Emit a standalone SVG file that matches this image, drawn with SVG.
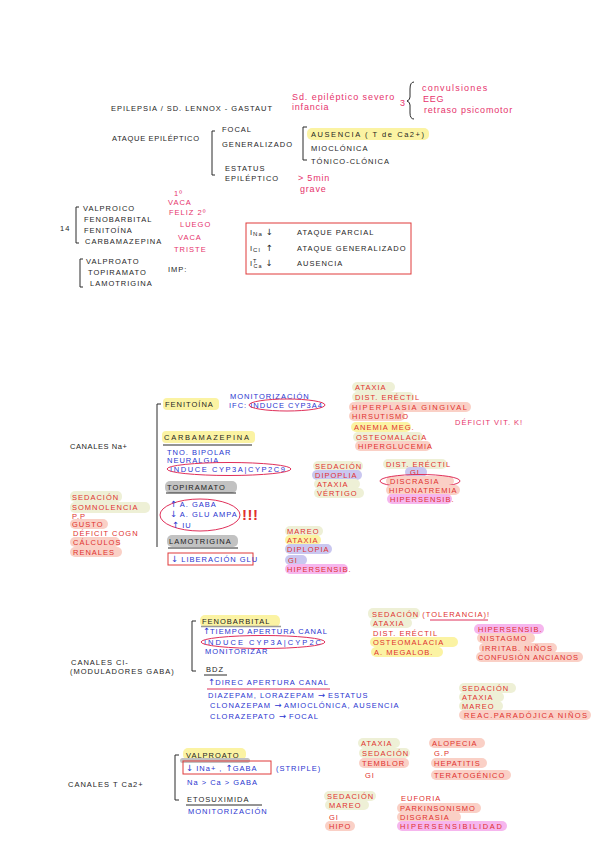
<svg xmlns="http://www.w3.org/2000/svg" width="600" height="848" viewBox="0 0 600 848">
<style>
text{font-family:"Liberation Sans",Arial,sans-serif;font-size:7.5px;letter-spacing:1px}
.ar{font-family:"DejaVu Sans",sans-serif;font-size:8.5px;letter-spacing:0}
.k{fill:#1e1e1e}
.b{fill:#2a35d0}
.r{fill:#e0302e}
.m{fill:#e6336c;font-size:9px;letter-spacing:0.8px}
.mc{fill:#e6336c}
.hy{fill:#fbf3a3}
.hg{fill:#eef0d6}
.hs{fill:#fad0c6}
.hl{fill:#cac7f0}
.hp{fill:#f6b6ee}
.hgr{fill:#c2c2c2}
.br{fill:none;stroke:#2a2a2a;stroke-width:1}
.ul{stroke:#2a2a2a;stroke-width:1}
.el{fill:none;stroke:#e0305a;stroke-width:1}
.box{fill:none;stroke:#e03a3a;stroke-width:1}
</style>
<rect width="600" height="848" fill="#ffffff"/>

<g id="connectors">
<path class="br" d="M414 82 Q410 82 410 89 L410 97 Q410 100 407 101 Q410 102 410 105 L410 113 Q410 119 414 119"/>
<path class="br" d="M215 131 L212 131 L212 175 L215 175"/>
<path class="br" d="M307 127 L303 127 L303 160 L307 160"/>
<path class="br" d="M79 207 L76 207 L76 243 L79 243"/>
<path class="br" d="M83 259 L80 259 L80 287 L83 287"/>
<path class="br" d="M161 404 L157 404 L157 547"/>
<path class="br" d="M196 621 L192 621 L192 671 L196 671"/>
<path class="br" d="M179 755 L175 755 L175 800 L179 800"/>
</g>

<g id="epilepsia">
<text class="k" x="111" y="111" textLength="162">EPILEPSIA / SD. LENNOX - GASTAUT</text>
</g>
<g id="sd-severo">
<text class="m" x="292" y="100" textLength="103">Sd. epiléptico severo</text>
<text class="m" x="292" y="110">infancia</text>
<text class="m" x="400" y="106">3</text>
</g>
<g id="sintomas">
<text class="m" x="422" y="91" textLength="66">convulsiones</text>
<text class="m" x="423" y="102">EEG</text>
<text class="m" x="424" y="113">retraso psicomotor</text>
</g>

<g id="ataque">
<text class="k" x="112" y="141" textLength="88">ATAQUE EPILÉPTICO</text>
</g>
<g id="tipos">
<text class="k" x="222" y="132">FOCAL</text>
<text class="k" x="222" y="147" textLength="71">GENERALIZADO</text>
<text class="k" x="225" y="171">ESTATUS</text>
<text class="k" x="225" y="181">EPILÉPTICO</text>
</g>
<g id="generalizado">
<rect class="hy" x="307" y="128" width="122" height="12" rx="5"/>
<text class="k" x="311" y="137" textLength="114">AUSENCIA  ( T de Ca2+)</text>
<text class="k" x="311" y="151">MIOCLÓNICA</text>
<text class="k" x="311" y="164">TÓNICO-CLÓNICA</text>
</g>
<g id="grave">
<text class="m" x="298" y="181">&gt; 5min</text>
<text class="m" x="300" y="192">grave</text>
</g>

<g id="lista14">
<text class="k" x="60" y="231">14</text>
<text class="k" x="83" y="211">VALPROICO</text>
<text class="k" x="84" y="222">FENOBARBITAL</text>
<text class="k" x="84" y="233">FENITOÍNA</text>
<text class="k" x="85" y="244">CARBAMAZEPINA</text>
</g>
<g id="mnemo">
<text class="mc" x="174" y="196">1º</text>
<text class="mc" x="168" y="205">VACA</text>
<text class="mc" x="169" y="215">FELIZ  2º</text>
<text class="mc" x="180" y="227">LUEGO</text>
<text class="mc" x="178" y="240">VACA</text>
<text class="mc" x="174" y="252">TRISTE</text>
</g>
<g id="lista-nuevos">
<text class="k" x="86" y="264">VALPROATO</text>
<text class="k" x="88" y="275">TOPIRAMATO</text>
<text class="k" x="90" y="286">LAMOTRIGINA</text>
<text class="k" x="168" y="272">IMP:</text>
</g>
<g id="tabla-canales">
<rect class="box" x="246" y="223" width="165" height="51"/>
<text class="k" x="250" y="235">I<tspan font-size="6" dy="1">Na</tspan><tspan class="ar" dy="-1" dx="3">↓</tspan></text>
<text class="k" x="297" y="235">ATAQUE PARCIAL</text>
<text class="k" x="250" y="251">I<tspan font-size="6" dy="1">Cl</tspan><tspan class="ar" dy="-1" dx="5">↑</tspan></text>
<text class="k" x="297" y="251">ATAQUE GENERALIZADO</text>
<text class="k" x="250" y="266">I<tspan font-size="5.5" dy="-3">T</tspan><tspan font-size="5.5" dy="5" dx="-4">Ca</tspan><tspan class="ar" dy="-2" dx="3">↓</tspan></text>
<text class="k" x="297" y="266">AUSENCIA</text>
</g>

<g id="canales-na">
<text class="k" x="70" y="449" textLength="58">CANALES Na+</text>
</g>
<g id="fenitoina">
<rect class="hy" x="163" y="398" width="56" height="12" rx="4"/>
<text class="k" x="165" y="407">FENITOÍNA</text>
<text class="b" x="230" y="399">MONITORIZACIÓN</text>
<text class="b" x="229" y="408">IFC: INDUCE CYP3A4</text>
<ellipse class="el" cx="287" cy="405" rx="38" ry="6"/>
</g>
<g id="carbamazepina">
<rect class="hy" x="162" y="431" width="93" height="12" rx="4"/>
<text class="k" x="164" y="440" textLength="86">CARBAMAZEPINA</text>
<line class="ul" x1="163" y1="445" x2="252" y2="445"/>
<text class="b" x="167" y="455">TNO. BIPOLAR</text>
<text class="b" x="167" y="463">NEURALGIA</text>
<text class="b" x="170" y="472" textLength="116">INDUCE  CYP3A|CYP2C9</text>
<ellipse class="el" cx="229" cy="469" rx="62" ry="6.5"/>
</g>
<g id="topiramato">
<rect class="hgr" x="165" y="481" width="72" height="12" rx="5"/>
<text class="k" x="167" y="490">TOPIRAMATO</text>
<line class="ul" x1="166" y1="493" x2="236" y2="493"/>
<ellipse class="el" cx="200" cy="515" rx="40" ry="16"/>
<text class="b" x="170" y="507"><tspan class="ar">↑</tspan> A. GABA</text>
<text class="b" x="170" y="517"><tspan class="ar">↓</tspan> A. GLU AMPA</text>
<text class="b" x="172" y="528"><tspan class="ar">↑</tspan> IU</text>
<text x="242" y="520" fill="#e0302e" style="font-size:15px;font-weight:bold;letter-spacing:0.5px">!!!</text>
</g>
<g id="lamotrigina">
<rect class="hgr" x="167" y="535" width="71" height="12" rx="5"/>
<text class="k" x="169" y="544">LAMOTRIGINA</text>
<line class="ul" x1="168" y1="548" x2="238" y2="548"/>
<rect class="box" x="168" y="553" width="85" height="12"/>
<text class="b" x="171" y="562"><tspan class="ar">↓</tspan> LIBERACIÓN GLU</text>
</g>
<g id="efectos-topiramato">
<rect class="hg" x="70" y="491" width="52" height="11" rx="5"/>
<text class="r" x="72" y="500">SEDACIÓN</text>
<rect class="hg" x="70" y="502" width="80" height="11" rx="5"/>
<text class="r" x="72" y="510">SOMNOLENCIA</text>
<text class="r" x="72" y="519">P.P</text>
<rect class="hs" x="70" y="519" width="38" height="10" rx="5"/>
<text class="r" x="72" y="527">GUSTO</text>
<text class="r" x="73" y="536">DÉFICIT COGN</text>
<rect class="hs" x="70" y="537" width="50" height="10" rx="5"/>
<text class="r" x="73" y="545">CÁLCULOS</text>
<rect class="hs" x="70" y="547" width="52" height="10" rx="5"/>
<text class="r" x="73" y="555">RENALES</text>
</g>
<g id="efectos-carbamazepina-1">
<rect class="hg" x="313" y="461" width="50" height="10" rx="5"/>
<text class="r" x="315" y="469">SEDACIÓN</text>
<rect class="hl" x="312" y="470" width="50" height="10" rx="5"/>
<text class="r" x="315" y="478">DIPOPLIA</text>
<rect class="hg" x="314" y="479" width="46" height="10" rx="5"/>
<text class="r" x="317" y="487">ATAXIA</text>
<rect class="hg" x="314" y="488" width="50" height="10" rx="5"/>
<text class="r" x="317" y="496">VÉRTIGO</text>
</g>
<g id="efectos-lamotrigina">
<rect class="hg" x="285" y="526" width="38" height="10" rx="5"/>
<text class="r" x="287" y="534">MAREO</text>
<rect class="hy" x="285" y="535" width="36" height="10" rx="5"/>
<text class="r" x="287" y="543">ATAXIA</text>
<rect class="hl" x="285" y="544" width="47" height="10" rx="5"/>
<text class="r" x="287" y="552">DIPLOPIA</text>
<rect class="hl" x="285" y="555" width="22" height="10" rx="5"/>
<text class="r" x="288" y="563">GI</text>
<rect class="hp" x="285" y="564" width="63" height="10" rx="5"/>
<text class="r" x="287" y="572">HIPERSENSIB.</text>
</g>
<g id="efectos-fenitoina">
<rect class="hg" x="352" y="382" width="43" height="10" rx="5"/>
<text class="r" x="355" y="390">ATAXIA</text>
<rect class="hg" x="352" y="392" width="62" height="10" rx="5"/>
<text class="r" x="355" y="400">DIST. ERÉCTIL</text>
<rect class="hs" x="349" y="402" width="122" height="10" rx="5"/>
<text class="r" x="352" y="410" textLength="116">HIPERPLASIA GINGIVAL</text>
<rect class="hs" x="349" y="411" width="56" height="10" rx="5"/>
<text class="r" x="352" y="419">HIRSUTISMO</text>
<rect class="hy" x="351" y="422" width="60" height="10" rx="5"/>
<text class="r" x="354" y="430">ANEMIA MEG.</text>
<rect class="hg" x="353" y="432" width="70" height="10" rx="5"/>
<text class="r" x="356" y="440">OSTEOMALACIA</text>
<rect class="hs" x="355" y="441" width="76" height="10" rx="5"/>
<text class="r" x="358" y="449">HIPERGLUCEMIA</text>
<text class="mc" x="455" y="425">DÉFICIT VIT. K!</text>
</g>
<g id="efectos-carbamazepina-2">
<rect class="hg" x="383" y="459" width="64" height="10" rx="5"/>
<text class="r" x="386" y="467">DIST. ERÉCTIL</text>
<rect class="hl" x="405" y="467" width="22" height="10" rx="5"/>
<text class="r" x="410" y="475">GI</text>
<rect class="hs" x="386" y="476" width="68" height="10" rx="5"/>
<text class="r" x="390" y="484">DISCRASIA</text>
<ellipse class="el" cx="420" cy="481" rx="40" ry="6.5"/>
<rect class="hs" x="386" y="485" width="74" height="10" rx="5"/>
<text class="r" x="389" y="493">HIPONATREMIA</text>
<rect class="hp" x="387" y="494" width="65" height="10" rx="5"/>
<text class="r" x="390" y="502">HIPERSENSIB.</text>
</g>

<g id="canales-cl">
<text class="k" x="71" y="665">CANALES Cl-</text>
<text class="k" x="70" y="674">(MODULADORES GABA)</text>
</g>
<g id="fenobarbital">
<rect class="hy" x="200" y="615" width="80" height="12" rx="5"/>
<text class="k" x="202" y="624">FENOBARBITAL</text>
<line x1="201" y1="626.5" x2="281" y2="626.5" stroke="#999" stroke-width="1.5"/>
<text class="b" x="203" y="634" textLength="125"><tspan class="ar">↑</tspan>TIEMPO APERTURA CANAL</text>
<text class="b" x="204" y="645" textLength="118">INDUCE CYP3A|CYP2C</text>
<ellipse class="el" cx="263" cy="642" rx="62" ry="6.5"/>
<text class="b" x="205" y="654">MONITORIZAR</text>
</g>
<g id="bdz">
<text class="k" x="206" y="672">BDZ</text>
<line class="ul" x1="204" y1="675" x2="227" y2="675"/>
<text class="b" x="208" y="685" textLength="121"><tspan class="ar">↑</tspan>DIREC APERTURA CANAL</text>
<line x1="207" y1="689" x2="330" y2="689" stroke="#e0305a" stroke-width="1"/>
<text class="b" x="208" y="698">DIAZEPAM, LORAZEPAM <tspan class="ar">→</tspan> ESTATUS</text>
<text class="b" x="210" y="708">CLONAZEPAM <tspan class="ar">→</tspan> AMIOCLÓNICA, AUSENCIA</text>
<text class="b" x="210" y="719">CLORAZEPATO <tspan class="ar">→</tspan> FOCAL</text>
</g>
<g id="efectos-fenobarbital">
<rect class="hg" x="368" y="608" width="52" height="11" rx="5"/>
<text class="r" x="372" y="617">SEDACIÓN (TOLERANCIA)!</text>
<line x1="430" y1="620" x2="488" y2="620" stroke="#e0305a" stroke-width="1"/>
<rect class="hg" x="370" y="618" width="42" height="10" rx="5"/>
<text class="r" x="373" y="626">ATAXIA</text>
<text class="r" x="373" y="636">DIST. ERÉCTIL</text>
<rect class="hy" x="370" y="637" width="88" height="10" rx="5"/>
<text class="r" x="373" y="645">OSTEOMALACIA</text>
<rect class="hy" x="371" y="647" width="72" height="10" rx="5"/>
<text class="r" x="374" y="655">A. MEGALOB.</text>
<rect class="hp" x="474" y="624" width="70" height="10" rx="5"/>
<text class="r" x="478" y="632">HIPERSENSIB.</text>
<rect class="hs" x="477" y="633" width="58" height="10" rx="5"/>
<text class="r" x="480" y="641">NISTAGMO</text>
<rect class="hs" x="479" y="643" width="78" height="10" rx="5"/>
<text class="r" x="482" y="651">IRRITAB. NIÑOS</text>
<rect class="hs" x="476" y="652" width="107" height="10" rx="5"/>
<text class="r" x="478" y="660" textLength="101">CONFUSIÓN ANCIANOS</text>
</g>
<g id="efectos-bdz">
<rect class="hg" x="459" y="683" width="57" height="10" rx="5"/>
<text class="r" x="462" y="691">SEDACIÓN</text>
<rect class="hg" x="459" y="692" width="45" height="10" rx="5"/>
<text class="r" x="462" y="700">ATAXIA</text>
<rect class="hg" x="459" y="701" width="44" height="10" rx="5"/>
<text class="r" x="462" y="709">MAREO</text>
<rect class="hs" x="459" y="710" width="132" height="10" rx="5"/>
<text class="r" x="464" y="718" textLength="124">REAC.PARADÓJICA NIÑOS</text>
</g>

<g id="canales-ca">
<text class="k" x="68" y="787">CANALES T Ca2+</text>
</g>
<g id="valproato">
<rect class="hy" x="183" y="748" width="63" height="12" rx="5"/>
<rect class="hgr" x="180" y="758" width="70" height="5" rx="2.5"/>
<text class="k" x="186" y="758">VALPROATO</text>
<rect class="box" x="183" y="761" width="88" height="13"/>
<text class="b" x="186" y="771"><tspan class="ar">↓</tspan> INa+ , <tspan class="ar">↑</tspan>GABA</text>
<text class="b" x="276" y="771">(STRIPLE)</text>
<text class="b" x="187" y="785">Na &gt; Ca &gt; GABA</text>
</g>
<g id="etosuximida">
<text class="k" x="187" y="802">ETOSUXIMIDA</text>
<line class="ul" x1="186" y1="805" x2="262" y2="805"/>
<text class="b" x="188" y="814">MONITORIZACIÓN</text>
</g>
<g id="efectos-valproato">
<rect class="hg" x="358" y="738" width="42" height="10" rx="5"/>
<text class="r" x="361" y="746">ATAXIA</text>
<rect class="hg" x="359" y="748" width="51" height="10" rx="5"/>
<text class="r" x="362" y="756">SEDACIÓN</text>
<rect class="hs" x="359" y="758" width="50" height="10" rx="5"/>
<text class="r" x="362" y="766">TEMBLOR</text>
<text class="r" x="365" y="778">GI</text>
<rect class="hs" x="429" y="738" width="56" height="10" rx="5"/>
<text class="r" x="432" y="746">ALOPECIA</text>
<text class="r" x="434" y="756">G.P</text>
<rect class="hs" x="431" y="758" width="56" height="10" rx="5"/>
<text class="r" x="434" y="766">HEPATITIS</text>
<rect class="hs" x="431" y="770" width="80" height="10" rx="5"/>
<text class="r" x="434" y="778">TERATOGÉNICO</text>
</g>
<g id="efectos-etosuximida">
<rect class="hg" x="324" y="791" width="52" height="10" rx="5"/>
<text class="r" x="327" y="799">SEDACIÓN</text>
<rect class="hg" x="325" y="800" width="44" height="10" rx="5"/>
<text class="r" x="329" y="808">MAREO</text>
<text class="r" x="329" y="820">GI</text>
<rect class="hs" x="325" y="821" width="30" height="10" rx="5"/>
<text class="r" x="329" y="829">HIPO</text>
<text class="r" x="401" y="801">EUFORIA</text>
<rect class="hs" x="397" y="803" width="84" height="10" rx="5"/>
<text class="r" x="400" y="811">PARKINSONISMO</text>
<rect class="hs" x="397" y="812" width="64" height="10" rx="5"/>
<text class="r" x="400" y="820">DISGRASIA</text>
<rect class="hp" x="397" y="821" width="110" height="10" rx="5"/>
<text class="r" x="400" y="829" textLength="103">HIPERSENSIBILIDAD</text>
</g>
</svg>
